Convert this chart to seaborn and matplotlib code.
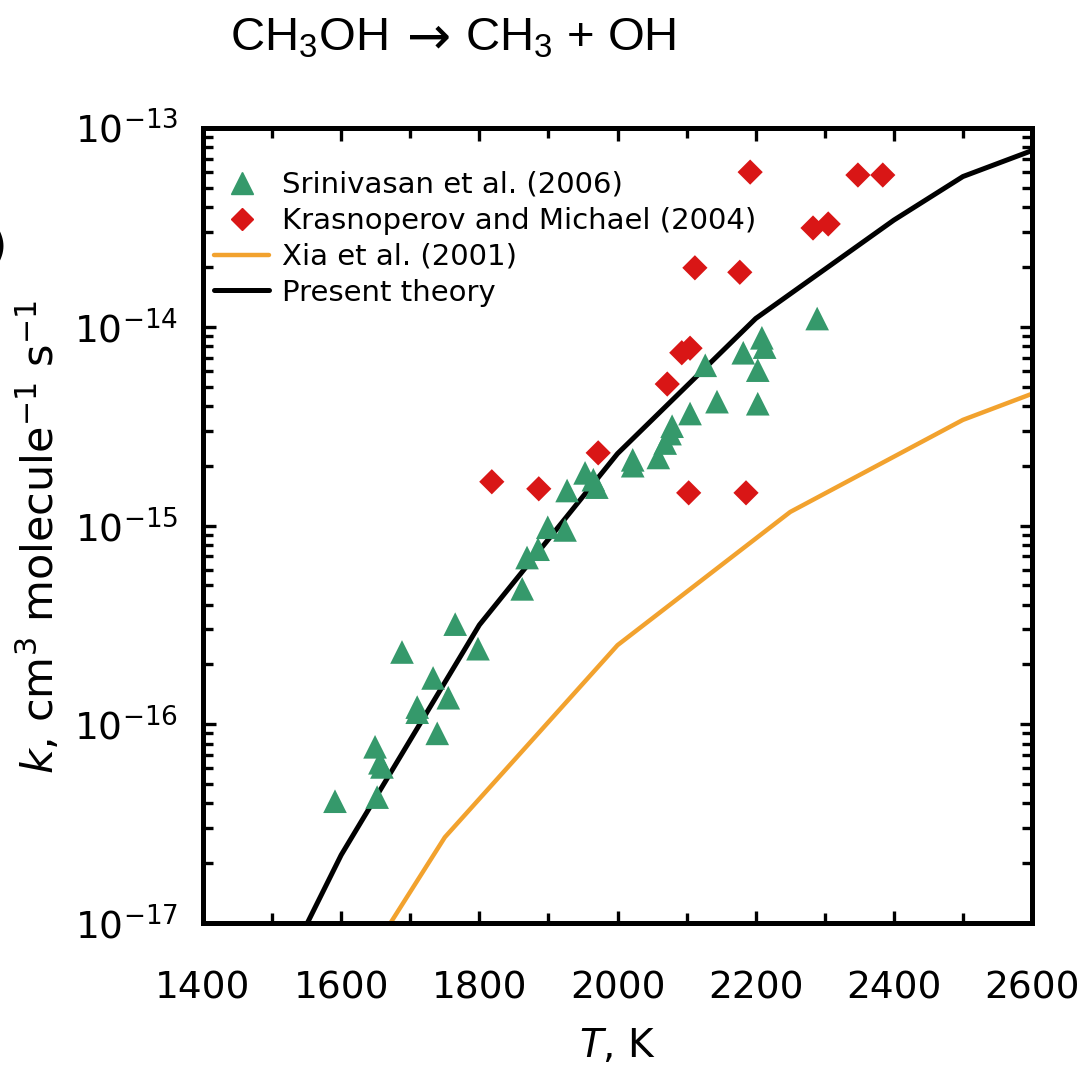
import numpy as np
import pandas as pd
import seaborn as sns
import matplotlib.pyplot as plt
from matplotlib.ticker import MultipleLocator, LogLocator, NullFormatter
from matplotlib.lines import Line2D

# -------------------------------------------
# Data
sri_T = [1591, 1649, 1652, 1659, 1656, 1688, 1710, 1710, 1733, 1739, 1755, 1765,
         1798, 1862, 1869, 1885, 1899, 1924, 1927, 1953, 1965, 1970, 2022, 2022,
         2059, 2069, 2079, 2076, 2105, 2127, 2144, 2182, 2203, 2203, 2209, 2213, 2289]
sri_k = [4.1e-17, 7.7e-17, 4.3e-17, 6.1e-17, 6.4e-17, 2.31e-16, 1.22e-16, 1.15e-16,
         1.71e-16, 9.0e-17, 1.36e-16, 3.19e-16, 2.4e-16, 4.8e-16, 6.9e-16, 7.6e-16,
         9.8e-16, 9.5e-16, 1.5e-15, 1.84e-15, 1.7e-15, 1.56e-15, 2.14e-15, 2.0e-15,
         2.2e-15, 2.6e-15, 3.16e-15, 2.9e-15, 3.66e-15, 6.4e-15, 4.2e-15, 7.4e-15,
         6.05e-15, 4.1e-15, 8.8e-15, 7.9e-15, 1.1e-14]

kras_T = [1818, 1886, 1972, 2072, 2093, 2105, 2103, 2186, 2112, 2177, 2192, 2283,
          2305, 2348, 2384]
kras_k = [1.66e-15, 1.53e-15, 2.32e-15, 5.15e-15, 7.4e-15, 7.8e-15, 1.46e-15,
          1.46e-15, 1.98e-14, 1.88e-14, 6.0e-14, 3.14e-14, 3.29e-14, 5.8e-14, 5.8e-14]

theory_T = [1500, 1600, 1800, 2000, 2200, 2400, 2500, 2600]
theory_k = [4.4e-18, 2.2e-17, 3.16e-16, 2.3e-15, 1.1e-14, 3.44e-14, 5.7e-14, 7.7e-14]

xia_T = [1500, 1750, 2000, 2250, 2500, 2600]
xia_k = [1.15e-18, 2.7e-17, 2.5e-16, 1.17e-15, 3.4e-15, 4.6e-15]

green = '#35996b'
red = '#d91616'
orange = '#f2a22e'

sns.set_theme(style='ticks')
plt.rcParams['font.family'] = ['DejaVu Sans']
plt.rcParams['mathtext.default'] = 'regular'
plt.rcParams['text.color'] = 'black'
plt.rcParams['axes.labelcolor'] = 'black'

fig = plt.figure(figsize=(10.87, 10.74), dpi=100)
ax = fig.add_axes([0.1868, 0.1406, 0.7626, 0.7402])

df_sri = pd.DataFrame({'T': sri_T, 'k': sri_k})
df_kras = pd.DataFrame({'T': kras_T, 'k': kras_k})
df_th = pd.DataFrame({'T': theory_T, 'k': theory_k})
df_xia = pd.DataFrame({'T': xia_T, 'k': xia_k})

sns.lineplot(data=df_xia, x='T', y='k', ax=ax, color=orange, linewidth=3.2, zorder=2)
sns.lineplot(data=df_th, x='T', y='k', ax=ax, color='black', linewidth=3.6, zorder=2)
sns.scatterplot(data=df_sri, x='T', y='k', ax=ax, marker='^', s=290, color=green,
                edgecolor='none', zorder=3)
sns.scatterplot(data=df_kras, x='T', y='k', ax=ax, marker='D', s=165, color=red,
                edgecolor='none', zorder=3)

ax.set_yscale('log')
ax.set_xlim(1400, 2600)
ax.set_ylim(1e-17, 1e-13)
ax.xaxis.set_major_locator(MultipleLocator(200))
ax.xaxis.set_minor_locator(MultipleLocator(100))
ax.yaxis.set_major_locator(LogLocator(base=10, numticks=10))
ax.yaxis.set_minor_locator(LogLocator(base=10, subs=np.arange(2, 10), numticks=20))
ax.yaxis.set_minor_formatter(NullFormatter())

for s in ax.spines.values():
    s.set_linewidth(3.6)
    s.set_color('black')
ax.tick_params(which='both', direction='in', top=True, right=True, colors='black',
               width=2.4, labelsize=27)
ax.tick_params(axis='x', which='major', pad=34)
ax.tick_params(axis='y', which='major', pad=18)
ax.tick_params(which='major', length=9)
ax.tick_params(which='minor', length=7)

ax.set_xlabel(r'$\it{T}$, K', fontsize=28, labelpad=15)
ax.set_ylabel(r'$\it{k}$, cm$^{3}$ molecule$^{-1}$ s$^{-1}$', fontsize=31,
              labelpad=8, y=0.486)

handles = [
    Line2D([], [], marker='^', linestyle='none', color=green, markersize=16),
    Line2D([], [], marker='D', linestyle='none', color=red, markersize=11),
    Line2D([], [], color=orange, linewidth=3.2),
    Line2D([], [], color='black', linewidth=3.6),
]
labels = ['Srinivasan et al. (2006)', 'Krasnoperov and Michael (2004)',
          'Xia et al. (2001)', 'Present theory']
ax.legend(handles, labels, loc='upper left', frameon=False, fontsize=21,
          handlelength=1.9, handletextpad=0.45, labelspacing=0.27,
          borderaxespad=0.2, bbox_to_anchor=(-0.008, 0.968), labelcolor='black')

# reaction title, built from three pieces so the arrow can be longer
title_fam = ['Liberation Sans', 'DejaVu Sans']
fig.text(387 / 1087, 1 - 50 / 1074, 'CH$_3$OH', fontsize=34, family=title_fam,
         ha='right', va='baseline')
fig.text(425 / 1087, 1 - 37 / 1074, r'$\rightarrow$', fontsize=38,
         math_fontfamily='stix', ha='center', va='center')
fig.text(465 / 1087, 1 - 50 / 1074, 'CH$_3$ + OH', fontsize=34, family=title_fam,
         ha='left', va='baseline')
fig.text(0.006, 0.77, ')', fontsize=32, ha='right', va='center')

fig.savefig('out.png', dpi=100)
